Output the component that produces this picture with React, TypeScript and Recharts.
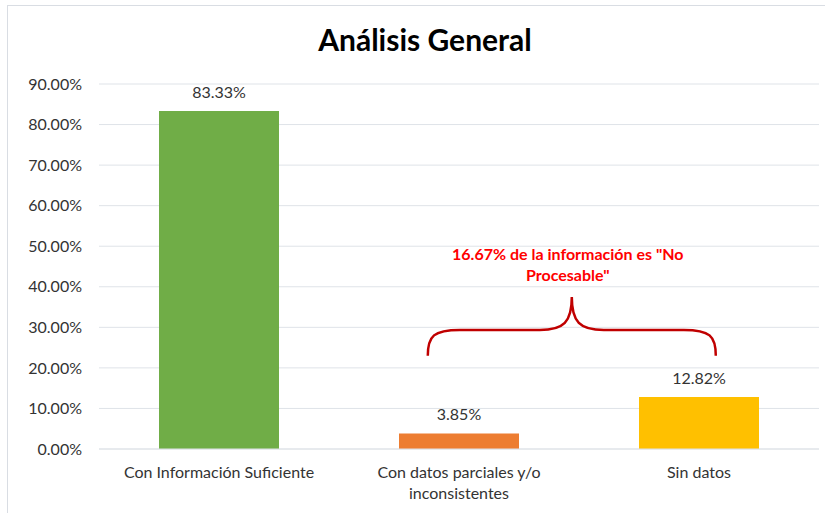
import { BarChart, Bar, Cell, XAxis, YAxis, CartesianGrid, LabelList, ReferenceArea, Text } from 'recharts';

const CATEGORIES = ['Con Información Suficiente', 'Con datos parciales y/o inconsistentes', 'Sin datos'];
const VALUES = [83.33, 3.85, 12.82];
const COLORS = ['#70AD47', '#ED7D31', '#FFC000'];
const Y_TICKS = [0, 10, 20, 30, 40, 50, 60, 70, 80, 90];
const NOTE_LINES = ['16.67% de la información es "No', 'Procesable"'];

const data = CATEGORIES.map((name, i) => ({ name, value: VALUES[i] }));

const FONT = 'Lato, "DejaVu Sans", sans-serif';

const pct = (v: number) => `${v.toFixed(2)}%`;

function CategoryTick(props: any) {
    const { x, y, payload } = props;
    return (
        <Text
            x={x}
            y={y}
            width={230}
            textAnchor="middle"
            verticalAnchor="start"
            lineHeight={21}
            fontSize={16}
            fontFamily={FONT}
            fill="#333"
        >
            {payload.value}
        </Text>
    );
}

function Brace(props: any) {
    const { x, y, width, height } = props;
    const L = x + width * 0.185;
    const R = x + width * 0.785;
    const C = (L + R) / 2;
    const B = y + height;
    const M = y + 33;
    const T = y;
    const d =
        `M ${L} ${B} C ${L} ${M + 6} ${L + 6} ${M} ${L + 32} ${M} ` +
        `L ${C - 32} ${M} C ${C - 8} ${M} ${C} ${M - 8} ${C} ${T} ` +
        `C ${C} ${M - 8} ${C + 8} ${M} ${C + 32} ${M} ` +
        `L ${R - 32} ${M} C ${R - 6} ${M} ${R} ${M + 6} ${R} ${B}`;
    return (
        <g>
            <path d={d} fill="none" stroke="#C00000" strokeWidth={2.5} />
            {NOTE_LINES.map((line, i) => (
                <text
                    key={i}
                    x={C - 4}
                    y={T - 37 + i * 21}
                    textAnchor="middle"
                    fontSize={16}
                    fontWeight={700}
                    fontFamily={FONT}
                    fill="#FF0000"
                >
                    {line}
                </text>
            ))}
        </g>
    );
}

export default function App() {
    return (
        <div style={{ position: 'absolute', left: 0, top: 0, width: 825, height: 513, background: '#fff', overflow: 'hidden' }}>
            <div style={{ position: 'absolute', left: 7, top: 5, width: 840, height: 540, border: '1px solid #d9dde3' }} />
            <div
                style={{
                    position: 'absolute',
                    left: 0,
                    top: 21,
                    width: 850,
                    textAlign: 'center',
                    fontFamily: FONT,
                    fontWeight: 700,
                    fontSize: 30,
                    color: '#000',
                }}
            >
                Análisis General
            </div>
            <div style={{ position: 'absolute', left: 0, top: 0 }}>
                <BarChart
                    width={825}
                    height={513}
                    data={data}
                    margin={{ top: 84, right: 6, bottom: 0, left: 0 }}
                    barCategoryGap="25%"
                >
                    <CartesianGrid vertical={false} stroke="#dfe3e8" />
                    <XAxis
                        dataKey="name"
                        tickLine={false}
                        axisLine={{ stroke: '#dfe3e8' }}
                        tick={<CategoryTick />}
                        tickMargin={12}
                        interval={0}
                        height={64}
                    />
                    <YAxis
                        width={99}
                        domain={[0, 90]}
                        ticks={Y_TICKS}
                        tickFormatter={pct}
                        tickLine={false}
                        axisLine={false}
                        tickMargin={11}
                        tick={{ fontSize: 16, fontFamily: FONT, fill: '#333' }}
                    />
                    <ReferenceArea
                        x1={CATEGORIES[1]}
                        x2={CATEGORIES[2]}
                        y1={23}
                        y2={37.5}
                        shape={<Brace />}
                    />
                    <Bar dataKey="value" isAnimationActive={false}>
                        {data.map((d, i) => (
                            <Cell key={d.name} fill={COLORS[i]} />
                        ))}
                        <LabelList
                            dataKey="value"
                            position="top"
                            offset={13}
                            formatter={(v: any) => pct(Number(v))}
                            style={{ fontSize: 16, fontFamily: FONT, fill: '#333' }}
                        />
                    </Bar>
                </BarChart>
            </div>
        </div>
    );
}
